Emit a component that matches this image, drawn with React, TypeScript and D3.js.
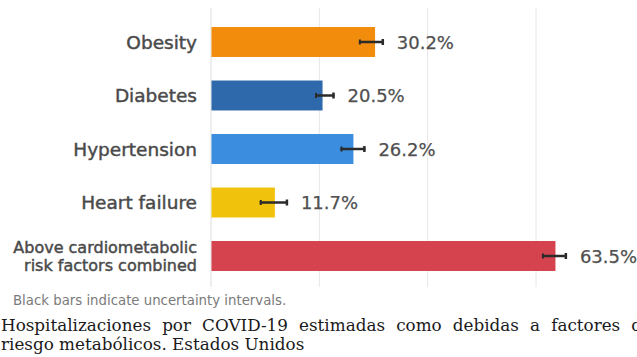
import React, { useMemo } from "react";
import * as d3 from "d3";

const categories = ["Obesity", "Diabetes", "Hypertension", "Heart failure", "Combined"];
const labelLines = [["Obesity"], ["Diabetes"], ["Hypertension"], ["Heart failure"], ["Above cardiometabolic", "risk factors combined"]];
const values = [30.2, 20.5, 26.2, 11.7, 63.5];
const lower = [27.3, 19.2, 23.9, 9.0, 61.1];
const upper = [31.9, 22.8, 28.5, 14.2, 65.7];
const colors = ["#f28c0c", "#2e6aab", "#3a8ddf", "#f1c20b", "#d5434e"];
const gridTicks = [20, 40, 60];
const footnote = "Black bars indicate uncertainty intervals.";
const captionLine1 = "Hospitalizaciones por COVID-19 estimadas como debidas a factores de";
const captionLine2 = "riesgo metabólicos. Estados Unidos";

const W = 637;
const H = 357;
const labelFont = "DejaVu Sans, sans-serif";
const captionFont = "DejaVu Serif, serif";

function measure(text: string, font: string): number {
  const c = document.createElement("canvas");
  const ctx = c.getContext("2d");
  if (!ctx) return text.length * 9;
  ctx.font = font;
  return ctx.measureText(text).width;
}

export default function App() {
  const x = d3.scaleLinear().domain([0, 60]).range([211, 536]);
  const y = d3
    .scaleBand<string>()
    .domain(categories)
    .range([15.25, 282.75])
    .paddingInner(0.44)
    .paddingOuter(0.22);
  const bw = y.bandwidth();

  const words1 = useMemo(() => {
    const words = captionLine1.split(" ");
    const f = "16.8px DejaVu Serif";
    const widths = words.map((w) => measure(w, f));
    const total = d3.sum(widths);
    const target = 651;
    const gap = (target - total) / (words.length - 1);
    let cx = 1;
    return words.map((w, i) => {
      const pos = cx;
      cx += widths[i] + gap;
      return { w, pos };
    });
  }, []);

  const labelStyle = { stroke: "#4a4a4a", strokeWidth: 0.45 } as const;

  return (
    <svg
      width={W}
      height={H}
      style={{ position: "absolute", left: 0, top: 0, background: "#fff" }}
    >
      <rect x={0} y={0} width={W} height={H} fill="#fff" />
      {gridTicks.map((t) => (
        <line key={t} x1={x(t)} x2={x(t)} y1={8} y2={287} stroke="#e6e6e6" strokeWidth={1} />
      ))}
      <line x1={x(0)} x2={x(0)} y1={8} y2={287} stroke="#dcdcdc" strokeWidth={1} />
      {categories.map((c, i) => {
        const y0 = y(c)!;
        const cy = y0 + bw / 2;
        const lines = labelLines[i];
        return (
          <g key={c}>
            <rect x={x(0) + 0.5} y={y0} width={x(values[i]) - x(0)} height={bw} fill={colors[i]} />
            <line x1={x(lower[i])} x2={x(upper[i])} y1={cy} y2={cy} stroke="#2b2b2b" strokeWidth={2.5} />
            <line x1={x(lower[i]) + 1} x2={x(lower[i]) + 1} y1={cy - 2.5} y2={cy + 2.5} stroke="#2b2b2b" strokeWidth={2} />
            <line x1={x(upper[i]) - 1} x2={x(upper[i]) - 1} y1={cy - 3} y2={cy + 3} stroke="#2b2b2b" strokeWidth={2.5} />
            <text
              x={x(upper[i]) + 13}
              y={cy + 6.5}
              fontFamily={labelFont}
              fontSize={18}
              fill="#505050"
              style={{ stroke: "#505050", strokeWidth: 0.25 }}
            >
              {values[i].toFixed(1)}%
            </text>
            {lines.length === 1 ? (
              <text x={197} y={cy + 6.5} textAnchor="end" fontFamily={labelFont} fontSize={18.5} fill="#4a4a4a" style={labelStyle}>
                {lines[0]}
              </text>
            ) : (
              <text textAnchor="end" fontFamily={labelFont} fontSize={16} fill="#4a4a4a" style={labelStyle}>
                <tspan x={197} y={cy - 3}>{lines[0]}</tspan>
                <tspan x={197} y={cy + 15}>{lines[1]}</tspan>
              </text>
            )}
          </g>
        );
      })}
      <text x={13} y={305} fontFamily={labelFont} fontSize={13.3} fill="#7a7a7a">
        {footnote}
      </text>
      <text y={330.5} fontFamily={captionFont} fontSize={16.8} fill="#1a1a1a">
        {words1.map((d, i) => (
          <tspan key={i} x={d.pos}>
            {d.w}
          </tspan>
        ))}
      </text>
      <text x={1} y={350} fontFamily={captionFont} fontSize={16.8} fill="#1a1a1a">
        {captionLine2}
      </text>
    </svg>
  );
}
